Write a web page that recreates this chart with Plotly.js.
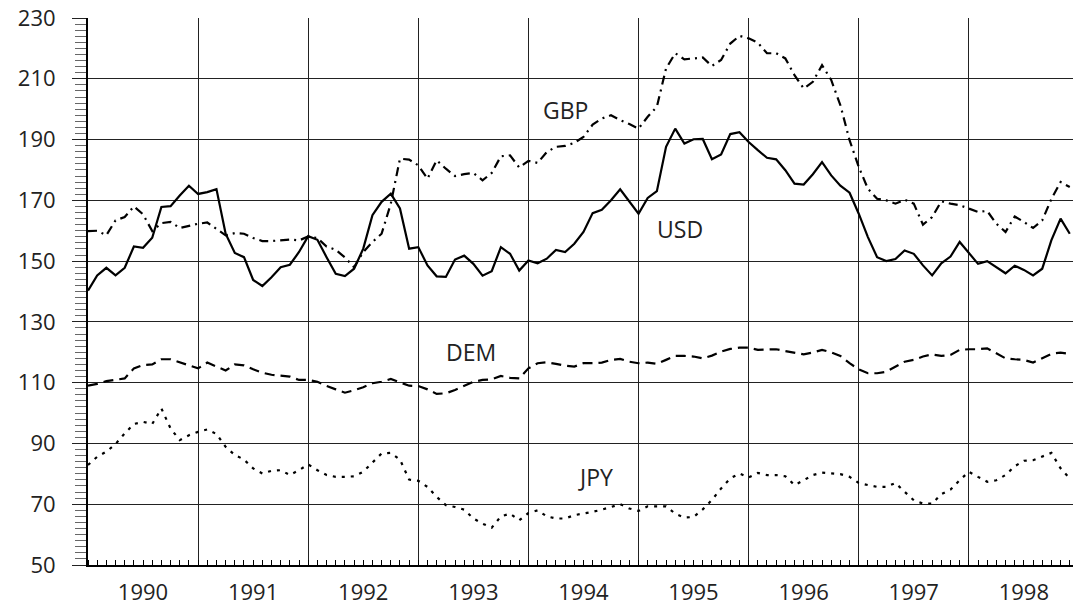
<!DOCTYPE html>
<html>
<head>
<meta charset="utf-8">
<script src="https://cdn.plot.ly/plotly-3.0.1.min.js"></script>
<style>html,body{margin:0;padding:0;background:#fff}#chart{width:1073px;height:606px}</style>
</head>
<body>
<div id="chart"></div>
<script>
// Monthly index values, Jan 1990 .. Dec 1998
const startYear = 1990;
const yearLabels = ["1990","1991","1992","1993","1994","1995","1996","1997","1998"];

const USD = [140.3,145.3,147.8,145.3,147.8,154.8,154.4,157.7,167.8,168.1,171.6,174.8,
172.1,172.7,173.7,159.0,152.7,151.3,143.8,141.8,144.7,148.0,148.8,153.0,
158.2,157.0,151.3,145.8,145.1,147.5,154.1,165.1,169.5,172.2,167.3,154.1,
154.6,148.6,145.0,144.8,150.5,151.8,149.1,145.2,146.7,154.6,152.4,146.9,
150.2,149.3,150.8,153.7,153.0,155.7,159.6,165.8,166.9,170.0,173.6,169.6,
165.6,170.8,173.0,187.6,193.6,188.7,190.1,190.2,183.5,185.1,191.8,192.4,
189.2,186.5,184.0,183.5,179.9,175.5,175.2,178.6,182.6,178.2,174.8,172.5,
165.6,157.9,151.3,150.0,150.7,153.5,152.4,148.6,145.3,149.3,151.5,156.3,
152.6,149.1,150.0,148.0,146.0,148.5,147.1,145.3,147.5,156.9,164.0,159.0];

const GBP = [159.9,160.0,158.5,163.4,164.5,168.0,165.4,159.9,162.5,162.9,160.9,161.6,
162.3,162.7,160.7,158.5,159.2,159.0,157.6,156.6,156.6,156.8,157.1,156.8,
158.1,157.6,154.8,153.7,151.2,148.0,153.0,156.3,159.0,168.9,183.7,183.4,
181.5,177.1,183.2,180.4,178.0,178.6,179.0,176.6,179.0,184.5,184.8,180.8,
183.0,182.3,185.9,187.6,187.9,188.9,190.9,194.9,196.9,198.0,196.4,195.1,
193.6,197.5,200.8,213.4,218.4,216.4,216.7,217.0,214.2,216.2,221.6,224.1,
223.3,221.9,218.4,218.4,216.7,211.2,206.8,209.0,214.5,209.6,201.3,189.8,
181.0,173.8,170.5,170.0,168.9,170.2,168.9,162.0,164.5,169.7,168.9,168.4,
167.3,166.2,166.5,162.3,159.6,164.7,162.9,160.9,163.4,170.5,176.0,174.4];

const DEM = [109.0,109.6,110.5,110.9,111.4,114.7,115.8,116.0,117.7,117.7,116.7,115.8,
114.7,116.6,115.3,114.0,116.0,115.7,114.4,113.3,112.6,112.2,112.0,110.9,
110.9,110.3,108.9,107.8,106.7,107.5,108.5,109.8,110.3,111.2,110.0,109.0,
108.9,107.8,106.3,106.5,107.6,108.9,110.3,110.9,111.1,112.2,111.6,111.4,
114.7,116.4,116.7,116.2,115.6,115.3,116.4,116.4,116.6,117.5,117.8,116.9,
116.4,116.6,116.2,117.5,118.8,118.8,118.6,118.0,118.9,120.2,121.1,121.5,
121.5,120.8,120.8,121.0,120.4,119.9,119.3,119.9,120.8,120.0,118.8,116.4,
114.4,113.1,113.1,113.6,115.3,116.9,117.5,118.6,119.3,118.8,119.1,120.8,
121.0,121.0,121.3,119.7,118.0,117.7,117.5,116.6,118.0,119.5,119.9,119.5];

const JPY = [82.9,85.6,87.3,89.8,93.3,96.4,97.1,96.4,101.5,94.9,91.1,92.7,
93.8,94.6,93.1,88.9,86.2,84.7,81.8,80.1,81.0,81.2,79.6,81.2,
83.1,81.2,79.6,79.0,79.0,79.2,80.7,83.7,86.7,86.9,84.7,78.1,
77.7,75.7,72.4,69.7,69.1,68.2,65.3,63.6,62.3,66.0,66.9,64.7,
67.1,68.0,66.0,65.3,65.3,66.4,66.9,67.5,68.2,69.1,70.0,68.6,
67.8,69.3,69.3,69.3,66.9,65.6,65.8,68.3,71.4,75.2,78.5,80.1,
78.8,80.3,79.6,79.6,79.2,76.3,77.9,79.6,80.4,80.1,79.9,79.0,
77.0,76.3,75.7,75.7,77.0,74.1,71.3,70.2,70.2,73.3,74.8,77.9,
80.7,79.0,77.4,77.9,79.6,82.5,84.3,84.5,85.6,86.9,81.8,78.5];

const seriesNames = ["USD","GBP","DEM","JPY"];
const seriesLabelX = [1995.38, 1994.34, 1993.48, 1994.61];
const seriesLabelY = [160.6, 199.7, 120.1, 79.0];

const months = USD.map((_, i) => startYear + i / 12);
const yearTicks = yearLabels.map(y => Number(y));

const styles = {
  USD: {color:'#000', width:2.2, dash:'solid'},
  GBP: {color:'#000', width:2.2, dash:'9px,5px,2px,5px'},
  DEM: {color:'#000', width:2.2, dash:'10px,6px'},
  JPY: {color:'#000', width:2.2, dash:'3px,6px'}
};
const dataMap = {USD, GBP, DEM, JPY};

const traces = seriesNames.map(n => ({
  type:'scatter', mode:'lines', name:n, x:months, y:dataMap[n],
  line:styles[n], hoverinfo:'skip'
}));

const font = {family:'"Open Sans", "DejaVu Sans", sans-serif', size:22, color:'#222'};

const layout = {
  width:1073, height:606,
  margin:{l:88, r:0, t:18, b:41, pad:0},
  paper_bgcolor:'#fff', plot_bgcolor:'#fff',
  showlegend:false,
  font:font,
  xaxis:{
    range:[1990, 1998.946],
    tickmode:'array', tickvals:yearTicks, ticktext:yearLabels,
    ticks:'', showgrid:true, gridcolor:'#222', gridwidth:1,
    ticklabelshift:55, ticklabelstandoff:7,
    showline:true, linecolor:'#000', linewidth:1.5,
    zeroline:false, fixedrange:true,
    minor:{tick0:1990, dtick:1/12, ticks:'inside', ticklen:5, tickcolor:'#000', tickwidth:1, showgrid:false},
    tickfont:font
  },
  yaxis:{
    range:[50,230], tick0:50, dtick:20,
    ticks:'outside', ticklen:14, tickcolor:'#222', tickwidth:1,
    showgrid:true, gridcolor:'#222', gridwidth:1,
    ticklabelstandoff:12,
    showline:true, linecolor:'#000', linewidth:2,
    zeroline:false, fixedrange:true,
    minor:{dtick:2, ticks:'outside', ticklen:11, tickcolor:'#666', tickwidth:1, showgrid:false},
    tickfont:font
  },
  annotations: seriesNames.map((n, k) => ({
    x:seriesLabelX[k], y:seriesLabelY[k], xref:'x', yref:'y',
    text:n, showarrow:false, font:{family:font.family, size:23, color:'#222'}
  }))
};

Plotly.newPlot('chart', traces, layout, {staticPlot:true, displayModeBar:false});
</script>
</body>
</html>
